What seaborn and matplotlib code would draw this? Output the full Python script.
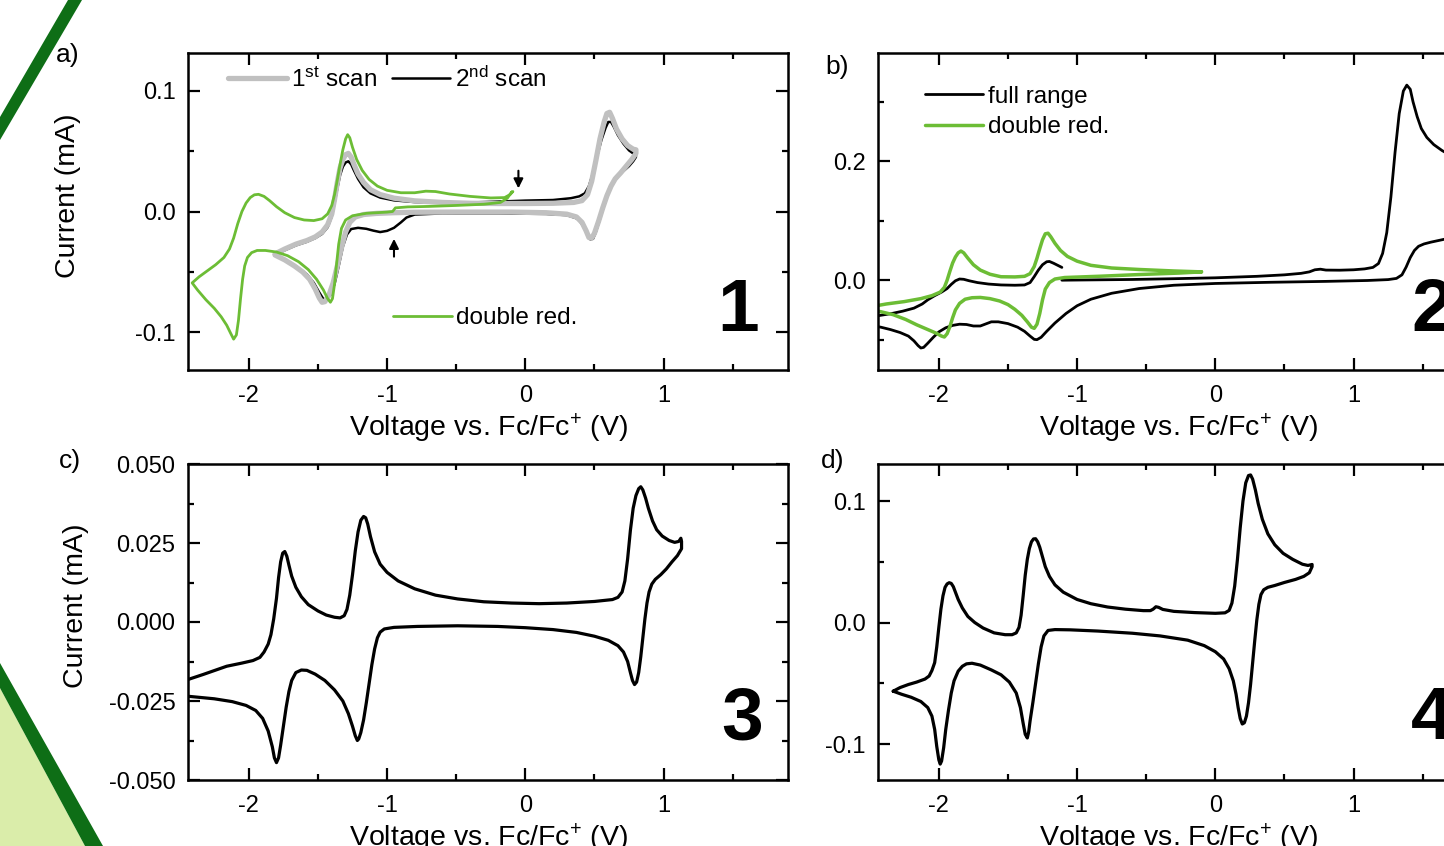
import numpy as np
import pandas as pd
import matplotlib
matplotlib.use("Agg")
import matplotlib.pyplot as plt
import seaborn as sns
from matplotlib.patches import Polygon
from matplotlib.ticker import MultipleLocator, FuncFormatter

# ---- panel a: compound 1 (1st scan, 2nd scan, double reduction) ----
a_scan1_v = [-1.81, -1.74, -1.66, -1.58, -1.52, -1.47, -1.43, -1.40, -1.38, -1.36, -1.34, -1.32, -1.30,
             -1.28, -1.26, -1.24, -1.21, -1.17, -1.12, -1.05, -0.95, -0.80, -0.60, -0.40, -0.20, 0.00,
             0.20, 0.35, 0.41, 0.45, 0.48, 0.51, 0.54, 0.57, 0.59, 0.61, 0.63, 0.66, 0.70, 0.74, 0.78, 0.80,
             0.80, 0.77, 0.73, 0.69, 0.65, 0.62, 0.59, 0.56, 0.53, 0.50, 0.48, 0.46, 0.44, 0.41, 0.37, 0.30,
             0.15, -0.10, -0.50, -0.80, -0.95, -1.08, -1.17, -1.23, -1.27, -1.30, -1.33, -1.36, -1.39, -1.42,
             -1.45, -1.47, -1.49, -1.52, -1.56, -1.61, -1.67, -1.74, -1.81]
a_scan1_i = [-0.035, -0.031, -0.027, -0.024, -0.021, -0.017, -0.011, -0.002, 0.010, 0.024, 0.036, 0.043, 0.047,
             0.048, 0.045, 0.039, 0.031, 0.024, 0.018, 0.014, 0.011, 0.0088, 0.0075, 0.0068, 0.0066, 0.0066,
             0.0068, 0.0075, 0.009, 0.014, 0.025, 0.042, 0.060, 0.074, 0.081, 0.082, 0.077, 0.068, 0.060, 0.0545, 0.0515, 0.051,
             0.048, 0.043, 0.0375, 0.032, 0.027, 0.021, 0.013, 0.003, -0.008, -0.018, -0.022, -0.0215, -0.016, -0.009, -0.0045, -0.0022,
             -0.001, -0.0005, -0.0005, -0.0006, -0.001, -0.0016, -0.0025, -0.0045, -0.009, -0.017, -0.030, -0.045, -0.059, -0.069,
             -0.0745, -0.075, -0.0715, -0.064, -0.056, -0.050, -0.045, -0.040, -0.036]

a_scan2_v = [-1.81, -1.74, -1.66, -1.58, -1.52, -1.47, -1.43, -1.40, -1.38, -1.36, -1.34, -1.32, -1.30,
             -1.28, -1.26, -1.24, -1.21, -1.17, -1.12, -1.05, -0.95, -0.80, -0.60, -0.40, -0.20, 0.00,
             0.20, 0.33, 0.39, 0.43, 0.46, 0.49, 0.52, 0.55, 0.58, 0.60, 0.62, 0.64, 0.67, 0.71, 0.75, 0.78, 0.80,
             0.80, 0.78, 0.75, 0.71, 0.67, 0.63, 0.60, 0.57, 0.54, 0.51, 0.49, 0.47, 0.45, 0.42, 0.38, 0.30,
             0.15, -0.20, -0.60, -0.80, -0.86, -0.90, -0.95, -1.00, -1.05, -1.10, -1.15, -1.21, -1.26, -1.29,
             -1.32, -1.35, -1.38, -1.41, -1.44, -1.46, -1.49, -1.53, -1.58, -1.65, -1.73, -1.81]
a_scan2_i = [-0.036, -0.032, -0.028, -0.025, -0.022, -0.0185, -0.013, -0.004, 0.007, 0.019, 0.030, 0.037, 0.0405,
             0.0415, 0.039, 0.034, 0.027, 0.020, 0.015, 0.0115, 0.0092, 0.0078, 0.0072, 0.0074, 0.0082, 0.009,
             0.0095, 0.011, 0.0125, 0.015, 0.021, 0.032, 0.046, 0.059, 0.069, 0.074, 0.074, 0.070, 0.063, 0.056, 0.0505, 0.048, 0.0475,
             0.045, 0.0415, 0.0375, 0.0335, 0.029, 0.023, 0.015, 0.005, -0.006, -0.017, -0.0225, -0.023, -0.019, -0.012, -0.006, -0.003,
             -0.002, -0.0016, -0.0016, -0.0025, -0.005, -0.009, -0.0135, -0.016, -0.017, -0.0158, -0.0143, -0.0135, -0.0145, -0.019,
             -0.029, -0.045, -0.060, -0.069, -0.073, -0.0725, -0.067, -0.059, -0.052, -0.046, -0.0405, -0.0365]

a_dred_v = [-0.10, -0.09, -0.11, -0.15, -0.25, -0.40, -0.55, -0.65, -0.72, -0.80, -0.90, -1.00, -1.07,
            -1.13, -1.18, -1.22, -1.25, -1.27, -1.285, -1.30, -1.32, -1.34, -1.36, -1.38, -1.40, -1.43,
            -1.47, -1.53, -1.60, -1.67, -1.74, -1.80, -1.85, -1.89, -1.93, -1.96, -1.99, -2.02, -2.05,
            -2.08, -2.11, -2.14, -2.18, -2.24, -2.30, -2.36, -2.41, -2.37, -2.31, -2.25, -2.20, -2.16,
            -2.13, -2.11, -2.09, -2.075, -2.06, -2.045, -2.03, -2.01, -1.98, -1.94, -1.88, -1.80, -1.72,
            -1.64, -1.57, -1.51, -1.46, -1.43, -1.41, -1.395, -1.38, -1.365, -1.35, -1.33, -1.30, -1.25,
            -1.15, -1.00, -0.96, -0.94, -0.85, -0.70, -0.50, -0.30, -0.18, -0.13, -0.10]
a_dred_i = [0.016, 0.0165, 0.014, 0.0115, 0.0112, 0.0125, 0.0145, 0.0165, 0.0168, 0.0155, 0.0155, 0.0175, 0.021,
            0.0265, 0.034, 0.043, 0.053, 0.061, 0.0635, 0.060, 0.051, 0.039, 0.026, 0.014, 0.005, -0.002,
            -0.006, -0.0075, -0.007, -0.005, -0.001, 0.004, 0.009, 0.0125, 0.0142, 0.0138, 0.0115, 0.007, 0.0,
            -0.010, -0.022, -0.031, -0.038, -0.044, -0.049, -0.054, -0.059, -0.065, -0.073, -0.080, -0.087, -0.094,
            -0.101, -0.1055, -0.102, -0.090, -0.072, -0.056, -0.045, -0.038, -0.034, -0.0322, -0.0322, -0.0335, -0.0365,
            -0.0415, -0.048, -0.056, -0.065, -0.072, -0.075, -0.072, -0.060, -0.043, -0.027, -0.014, -0.007, -0.0035,
            -0.0015, -0.0005, 0.0, 0.003, 0.0038, 0.0042, 0.005, 0.006, 0.0075, 0.011, 0.016]

# ---- panel b: compound 2 (full range, double reduction) ----
b_full_v = [-1.11, -0.90, -0.60, -0.30, 0.00, 0.30, 0.50, 0.62, 0.68, 0.72, 0.76, 0.80, 0.90, 1.00,
            1.08, 1.14, 1.18, 1.21, 1.24, 1.27, 1.30, 1.33, 1.36, 1.385, 1.41, 1.43, 1.46, 1.49, 1.53,
            1.58, 1.64, 1.70, 1.74, 1.74, 1.68, 1.62, 1.56, 1.51, 1.47, 1.44, 1.41, 1.38, 1.35, 1.31,
            1.25, 1.10, 0.80, 0.40, 0.00, -0.30, -0.55, -0.75, -0.90, -1.00, -1.08, -1.16, -1.22, -1.26,
            -1.29, -1.31, -1.34, -1.38, -1.43, -1.50, -1.57, -1.62, -1.66, -1.70, -1.75, -1.80, -1.85,
            -1.90, -1.95, -2.00, -2.04, -2.08, -2.11, -2.13, -2.15, -2.18, -2.22, -2.28, -2.35, -2.42,
            -2.50, -2.50, -2.42, -2.34, -2.26, -2.18, -2.12, -2.08, -2.03, -1.98, -1.94, -1.91, -1.88,
            -1.85, -1.82, -1.78, -1.72, -1.64, -1.55, -1.45, -1.38, -1.34, -1.31, -1.28, -1.25, -1.22,
            -1.20, -1.17, -1.14, -1.11]
b_full_i = [0.0, 0.0005, 0.0012, 0.0025, 0.004, 0.0065, 0.009, 0.0115, 0.014, 0.0175, 0.0185, 0.017, 0.0168, 0.0175,
            0.019, 0.0215, 0.028, 0.045, 0.080, 0.140, 0.215, 0.280, 0.318, 0.328, 0.321, 0.300, 0.275, 0.255, 0.240,
            0.228, 0.218, 0.210, 0.205, 0.074, 0.070, 0.067, 0.064, 0.061, 0.057, 0.050, 0.038, 0.022, 0.009, 0.003,
            0.001, -0.0005, -0.002, -0.0035, -0.0055, -0.0085, -0.014, -0.022, -0.032, -0.043, -0.056, -0.072, -0.086, -0.096,
            -0.100, -0.0995, -0.094, -0.086, -0.079, -0.073, -0.070, -0.070, -0.0735, -0.077, -0.077, -0.0745, -0.074,
            -0.076, -0.080, -0.087, -0.096, -0.106, -0.113, -0.114, -0.110, -0.102, -0.094, -0.088, -0.083, -0.079,
            -0.076, -0.062, -0.059, -0.056, -0.052, -0.047, -0.040, -0.033, -0.026, -0.020, -0.014, -0.007, -0.001,
            0.002, 0.0015, -0.001, -0.004, -0.0065, -0.008, -0.0085, -0.008, -0.004, 0.006, 0.017, 0.026, 0.031,
            0.0315, 0.0285, 0.025, 0.0215]

b_dred_v = [-0.10, -0.30, -0.55, -0.75, -0.90, -1.00, -1.07, -1.12, -1.16, -1.19, -1.21, -1.23, -1.25,
            -1.27, -1.29, -1.31, -1.34, -1.38, -1.45, -1.55, -1.63, -1.70, -1.75, -1.79, -1.82, -1.84,
            -1.86, -1.88, -1.90, -1.92, -1.94, -1.96, -1.99, -2.05, -2.13, -2.25, -2.38, -2.50, -2.50,
            -2.42, -2.33, -2.24, -2.16, -2.08, -2.02, -1.98, -1.96, -1.94, -1.92, -1.90, -1.88, -1.85,
            -1.81, -1.76, -1.70, -1.63, -1.56, -1.50, -1.45, -1.40, -1.36, -1.33, -1.31, -1.29, -1.27,
            -1.25, -1.23, -1.20, -1.16, -1.09, -0.83, -0.55, -0.26, -0.10]
b_dred_i = [0.014, 0.0155, 0.018, 0.0205, 0.025, 0.032, 0.040, 0.050, 0.062, 0.073, 0.079, 0.078, 0.068,
            0.053, 0.037, 0.023, 0.011, 0.0065, 0.0055, 0.0058, 0.010, 0.017, 0.026, 0.037, 0.046, 0.049,
            0.046, 0.039, 0.029, 0.015, 0.0, -0.012, -0.020, -0.026, -0.031, -0.036, -0.040, -0.045, -0.050,
            -0.053, -0.058, -0.066, -0.075, -0.083, -0.089, -0.094, -0.0955, -0.090, -0.078, -0.063, -0.050, -0.039,
            -0.032, -0.0295, -0.029, -0.031, -0.035, -0.041, -0.049, -0.059, -0.070, -0.079, -0.081, -0.074, -0.056,
            -0.033, -0.015, -0.004, 0.002, 0.0045, 0.0067, 0.0095, 0.012, 0.014]

# ---- panel c: compound 3 ----
c_v = [-2.44, -2.33, -2.16, -2.05, -1.97, -1.92, -1.89, -1.86, -1.84, -1.82, -1.80, -1.785, -1.77,
       -1.755, -1.74, -1.725, -1.71, -1.69, -1.66, -1.62, -1.57, -1.50, -1.44, -1.38, -1.34, -1.31,
       -1.29, -1.27, -1.25, -1.23, -1.21, -1.19, -1.17, -1.155, -1.14, -1.12, -1.09, -1.05, -1.00,
       -0.92, -0.80, -0.65, -0.49, -0.30, -0.10, 0.10, 0.30, 0.50, 0.63, 0.67, 0.70, 0.72, 0.74, 0.76,
       0.78, 0.80, 0.82, 0.835, 0.85, 0.87, 0.89, 0.92, 0.95, 0.99, 1.04, 1.08, 1.11, 1.125, 1.13,
       1.13, 1.10, 1.06, 1.02, 0.98, 0.94, 0.915, 0.895, 0.88, 0.865, 0.85, 0.835, 0.82, 0.805, 0.79,
       0.775, 0.76, 0.74, 0.71, 0.67, 0.60, 0.50, 0.37, 0.20, 0.00, -0.20, -0.49, -0.78, -0.95, -1.02,
       -1.05, -1.07, -1.09, -1.11, -1.13, -1.15, -1.17, -1.19, -1.205, -1.215, -1.23, -1.25, -1.28,
       -1.32, -1.38, -1.45, -1.52, -1.58, -1.62, -1.66, -1.69, -1.71, -1.73, -1.75, -1.77, -1.785,
       -1.80, -1.815, -1.83, -1.86, -1.90, -1.95, -2.02, -2.12, -2.25, -2.44]
c_i = [-0.0182, -0.0166, -0.014, -0.013, -0.0122, -0.0112, -0.0095, -0.007, -0.004, 0.001, 0.0075, 0.014, 0.019,
       0.0218, 0.0223, 0.0208, 0.018, 0.0145, 0.011, 0.008, 0.0055, 0.0035, 0.0022, 0.0015, 0.0013, 0.002,
       0.004, 0.0085, 0.015, 0.0225, 0.0285, 0.0322, 0.0334, 0.033, 0.031, 0.027, 0.0222, 0.0183, 0.0157,
       0.013, 0.0105, 0.0085, 0.0073, 0.0064, 0.006, 0.0058, 0.006, 0.0065, 0.0071, 0.0078, 0.0095, 0.013, 0.020, 0.029,
       0.036, 0.040, 0.0422, 0.0428, 0.0418, 0.0392, 0.036, 0.032, 0.0292, 0.0272, 0.0258, 0.0252, 0.0255, 0.0265, 0.0255,
       0.0232, 0.021, 0.019, 0.0168, 0.015, 0.0135, 0.012, 0.0095, 0.006, 0.001, -0.005, -0.011, -0.016, -0.019, -0.0198,
       -0.0185, -0.016, -0.0125, -0.0095, -0.0075, -0.0058, -0.0045, -0.0033, -0.0024, -0.0018, -0.0014, -0.0012, -0.0014, -0.0017, -0.0022,
       -0.0032, -0.005, -0.0085, -0.0135, -0.0195, -0.0255, -0.031, -0.035, -0.037, -0.0375, -0.036, -0.033, -0.029,
       -0.025, -0.0215, -0.0185, -0.0165, -0.0153, -0.0152, -0.016, -0.0185, -0.022, -0.027, -0.033, -0.039, -0.043,
       -0.0445, -0.043, -0.0395, -0.0345, -0.0305, -0.028, -0.0264, -0.0252, -0.0243, -0.0235]

# ---- panel d: compound 4 ----
d_v = [-2.33, -2.28, -2.22, -2.16, -2.10, -2.07, -2.05, -2.03, -2.015, -2.00, -1.985, -1.97, -1.955,
       -1.94, -1.925, -1.91, -1.895, -1.88, -1.86, -1.83, -1.79, -1.74, -1.68, -1.60, -1.52, -1.47,
       -1.44, -1.42, -1.405, -1.39, -1.375, -1.36, -1.345, -1.33, -1.315, -1.30, -1.285, -1.27, -1.25,
       -1.23, -1.20, -1.16, -1.10, -1.00, -0.90, -0.78, -0.65, -0.52, -0.47, -0.45, -0.43, -0.41, -0.38,
       -0.30, -0.15, 0.00, 0.07, 0.10, 0.12, 0.14, 0.16, 0.18, 0.20, 0.22, 0.24, 0.255, 0.27, 0.29,
       0.31, 0.34, 0.38, 0.43, 0.49, 0.56, 0.63, 0.67, 0.70, 0.70, 0.68, 0.64, 0.58, 0.50, 0.43, 0.38,
       0.35, 0.33, 0.315, 0.30, 0.285, 0.27, 0.255, 0.24, 0.225, 0.21, 0.195, 0.18, 0.165, 0.15, 0.13,
       0.10, 0.06, 0.00, -0.08, -0.20, -0.40, -0.60, -0.85, -1.05, -1.16, -1.21, -1.24, -1.26, -1.28,
       -1.30, -1.32, -1.34, -1.35, -1.36, -1.375, -1.39, -1.41, -1.44, -1.49, -1.55, -1.62, -1.70,
       -1.76, -1.80, -1.83, -1.86, -1.89, -1.91, -1.93, -1.95, -1.965, -1.98, -1.99, -2.00, -2.015,
       -2.03, -2.05, -2.08, -2.13, -2.20, -2.27, -2.33]
d_i = [-0.0565, -0.0535, -0.051, -0.049, -0.0465, -0.044, -0.0395, -0.033, -0.020, -0.004, 0.011, 0.022, 0.029,
       0.0318, 0.0328, 0.0322, 0.0295, 0.025, 0.019, 0.012, 0.005, 0.0, -0.0045, -0.0085, -0.010, -0.010,
       -0.0085, -0.004, 0.006, 0.022, 0.039, 0.052, 0.061, 0.0665, 0.0688, 0.069, 0.0665, 0.062, 0.054,
       0.046, 0.038, 0.031, 0.025, 0.019, 0.0155, 0.0128, 0.011, 0.0098, 0.0098, 0.011, 0.013, 0.0125, 0.0108,
       0.0092, 0.0082, 0.0076, 0.008, 0.010, 0.016, 0.030, 0.052, 0.078, 0.100, 0.115, 0.121, 0.1215, 0.118, 0.109,
       0.098, 0.085, 0.073, 0.064, 0.057, 0.052, 0.048, 0.047, 0.0478, 0.046, 0.041, 0.038, 0.0355, 0.033, 0.0305, 0.029,
       0.027, 0.023, 0.015, 0.002, -0.015, -0.033, -0.051, -0.066, -0.077, -0.0825, -0.0835, -0.079, -0.070, -0.059, -0.048,
       -0.038, -0.030, -0.024, -0.019, -0.0145, -0.011, -0.0088, -0.007, -0.006, -0.0058, -0.0065, -0.011, -0.020, -0.034,
       -0.050, -0.066, -0.081, -0.090, -0.095, -0.092, -0.083, -0.070, -0.058, -0.049, -0.043, -0.039, -0.035,
       -0.0335, -0.034, -0.036, -0.040, -0.048, -0.058, -0.072, -0.088, -0.103, -0.114, -0.1165, -0.113, -0.102,
       -0.088, -0.077, -0.070, -0.065, -0.0615, -0.059, -0.0565]

GREEN = "#6cbd35"
GREY = "#c0c0c0"
XLABEL = "Voltage vs. Fc/Fc$^{+}$ (V)"
YLABEL = "Current (mA)"

sns.set_style("ticks")
plt.rcParams["font.family"] = ["Liberation Sans", "DejaVu Sans"]
plt.rcParams["mathtext.default"] = "regular"
plt.rcParams["axes.unicode_minus"] = False
plt.rcParams["text.color"] = "black"
plt.rcParams["xtick.color"] = "black"
plt.rcParams["ytick.color"] = "black"

W, H = 1444, 846
fig = plt.figure(figsize=(W / 100, H / 100), dpi=100)


def px_axes(x0, y0, x1, y1):
    return fig.add_axes([x0 / W, 1 - y1 / H, (x1 - x0) / W, (y1 - y0) / H])


def fmt(nd):
    return FuncFormatter(lambda x, p: f"{round(x, nd) + 0:.{nd}f}")


def style(ax, ylim, ymaj, ymin, ynd):
    ax.set_xlim(-2.44, 1.9)
    ax.set_ylim(*ylim)
    ax.xaxis.set_major_locator(MultipleLocator(1))
    ax.xaxis.set_minor_locator(MultipleLocator(0.5))
    ax.yaxis.set_major_locator(MultipleLocator(ymaj))
    ax.yaxis.set_minor_locator(MultipleLocator(ymin))
    ax.xaxis.set_major_formatter(fmt(0))
    ax.yaxis.set_major_formatter(fmt(ynd))
    ax.tick_params(which="both", direction="in", top=True, right=True, width=1.6,
                   color="black", labelsize=17, labelcolor="black")
    ax.tick_params(which="major", length=8.5)
    ax.tick_params(which="minor", length=4.5)
    ax.tick_params(axis="x", pad=10.5)
    ax.tick_params(axis="y", pad=9)
    for s in ax.spines.values():
        s.set_linewidth(1.8)
        s.set_color("black")
    ax.set_xlabel("")
    ax.set_ylabel("")
    ax.text(0.5, -0.184, XLABEL, transform=ax.transAxes, ha="center", va="center", fontsize=20.5)


def cv(ax, v, i, color, lw):
    sns.lineplot(x=v, y=i, sort=False, estimator=None, color=color, lw=lw, ax=ax)
    return ax.lines[-1]


ax_a = px_axes(188, 53, 788, 370)
ax_b = px_axes(878, 53, 1478, 370)
ax_c = px_axes(188, 464, 788, 780)
ax_d = px_axes(878, 464, 1478, 780)

# panel a
l2 = cv(ax_a, a_scan2_v, a_scan2_i, "black", 1.8)
l1 = cv(ax_a, a_scan1_v, a_scan1_i, GREY, 3.8)
lg = cv(ax_a, a_dred_v, a_dred_i, GREEN, 2.0)
style(ax_a, (-0.131, 0.131), 0.1, 0.05, 1)
leg1 = ax_a.legend([l1, l2], ["1$^{st}$ scan", "2$^{nd}$ scan"], ncol=2, frameon=False,
                   loc="center left", bbox_to_anchor=(0.067, 0.918), borderpad=0, borderaxespad=0,
                   handlelength=2.4, handletextpad=0.2, columnspacing=0.6, fontsize=17.5)
ax_a.add_artist(leg1)
ax_a.legend([lg], ["double red."], frameon=False, loc="center left",
            bbox_to_anchor=(0.342, 0.164), borderpad=0, borderaxespad=0,
            handlelength=2.4, handletextpad=0.2, fontsize=17.5)
ax_a.annotate("", xy=(-0.05, 0.0168), xytext=(-0.05, 0.036),
              arrowprops=dict(arrowstyle="-|>", color="black", lw=1.5, mutation_scale=14))
ax_a.annotate("", xy=(-0.95, -0.0203), xytext=(-0.95, -0.0396),
              arrowprops=dict(arrowstyle="-|>", color="black", lw=1.5, mutation_scale=14))
ax_a.text(-0.2, 0.55, YLABEL, transform=ax_a.transAxes, rotation=90, ha="center", va="center", fontsize=20.5)
ax_a.text(0.917, 0.183, "1", transform=ax_a.transAxes, ha="center", va="center",
          fontsize=54, fontweight="bold")

# panel b
lf = cv(ax_b, b_full_v, b_full_i, "black", 2.0)
lb = cv(ax_b, b_dred_v, b_dred_i, GREEN, 2.5)
style(ax_b, (-0.151, 0.382), 0.2, 0.1, 1)
ax_b.legend([lf, lb], ["full range", "double red."], frameon=False, loc="center left",
            bbox_to_anchor=(0.078, 0.814), borderpad=0, borderaxespad=0, labelspacing=0.35,
            handlelength=2.4, handletextpad=0.2, fontsize=17.5)
ax_b.text(0.923, 0.183, "2", transform=ax_b.transAxes, ha="center", va="center",
          fontsize=54, fontweight="bold")

# panel c
cv(ax_c, c_v, c_i, "black", 2.3)
style(ax_c, (-0.05, 0.05), 0.025, 0.0125, 3)
ax_c.text(-0.186, 0.55, YLABEL, transform=ax_c.transAxes, rotation=90, ha="center", va="center", fontsize=20.5)
ax_c.text(0.923, 0.19, "3", transform=ax_c.transAxes, ha="center", va="center",
          fontsize=54, fontweight="bold")

# panel d
cv(ax_d, d_v, d_i, "black", 2.3)
style(ax_d, (-0.1296, 0.1305), 0.1, 0.05, 1)
ax_d.text(0.923, 0.19, "4", transform=ax_d.transAxes, ha="center", va="center",
          fontsize=54, fontweight="bold")

# panel letters
for lab, x, y in [("a)", 56, 55), ("b)", 825, 67), ("c)", 59, 461), ("d)", 821, 461)]:
    fig.text(x / W, 1 - y / H, lab, ha="left", va="center", fontsize=19)


# decorative stripes on the left edge
def px_poly(pts, color):
    fig.add_artist(Polygon([(x / W, 1 - y / H) for x, y in pts], closed=True,
                           transform=fig.transFigure, facecolor=color, edgecolor="none", zorder=0))


px_poly([(0, 688), (85, 846), (0, 846)], "#daedaa")
px_poly([(0, 663), (103, 846), (85, 846), (0, 688)], "#0e6e16")
px_poly([(68, 0), (82, 0), (0, 140), (0, 117)], "#0e6e16")

fig.savefig("out.png", dpi=100)
